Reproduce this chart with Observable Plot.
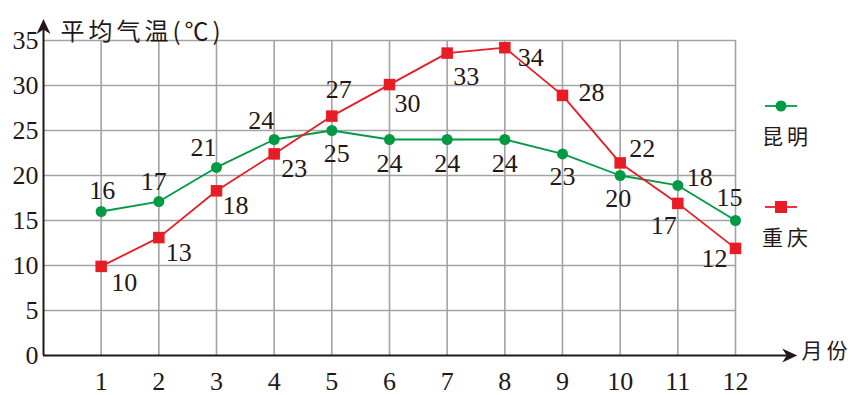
<!DOCTYPE html>
<html>
<head>
<meta charset="utf-8">
<script src="https://cdn.jsdelivr.net/npm/d3@7"></script>
<script src="https://cdn.jsdelivr.net/npm/@observablehq/plot@0.6"></script>
<style>
  html, body { margin: 0; padding: 0; background: #fff; }
  #wrap { position: relative; width: 853px; height: 395px; }
  #wrap svg text { font-family: "Liberation Serif", serif !important; font-variant: normal !important; }
  #wrap svg .cjk text { font-family: "Noto Sans CJK SC", sans-serif !important; letter-spacing: 4px; }
  .leg { position: absolute; font-family: "Noto Sans CJK SC", sans-serif; font-size: 21px; letter-spacing: 4px; color: #231815; }
</style>
</head>
<body>
<div id="wrap"></div>
<script>
// ---- data ----
const months = [1, 2, 3, 4, 5, 6, 7, 8, 9, 10, 11, 12];
const kunmingPlotted = [16, 17.1, 20.9, 24, 25, 24, 24, 24, 22.4, 20, 18.9, 15];
const kunmingLabels = ["16", "17", "21", "24", "25", "24", "24", "24", "23", "20", "18", "15"];
const chongqingPlotted = [9.9, 13.1, 18.3, 22.4, 26.6, 30.1, 33.6, 34.2, 28.9, 21.4, 16.9, 11.9];
const chongqingLabels = ["10", "13", "18", "23", "27", "30", "33", "34", "28", "22", "17", "12"];
const yTicks = [0, 5, 10, 15, 20, 25, 30, 35];
const seriesNames = ["昆明", "重庆"];
const yTitle = "平均气温(℃)";
const xTitle = "月份";

// ---- styles / label offsets (pixels) ----
const green = "#009a44";
const red = "#e81c24";
const ink = "#231815";
const kmOffsets = [[1,-21],[-5,-20],[-13,-20],[-13,-19],[5,23],[0,24],[0,24],[0,24],[0,23],[-2,23],[22,-8],[-6,-23]];
const cqOffsets = [[23,16],[20,15],[19,15],[20,15],[7,-26],[18,19],[19,24],[26,10],[29,-3],[22,-14],[-14,22],[-21,10]];
const xAxisEnd = 13.07;   // arrow tip beyond last month
const yAxisEnd = 37.4;    // arrow tip above top tick

const km = months.map((m, i) => ({month: m, t: kunmingPlotted[i], label: kunmingLabels[i]}));
const cq = months.map((m, i) => ({month: m, t: chongqingPlotted[i], label: chongqingLabels[i]}));

// stealth arrow head symbol (tip at the anchor point, pointing +x)
const arrowSym = {
  draw(ctx) {
    ctx.moveTo(0, 0);
    ctx.lineTo(-15, -7);
    ctx.lineTo(-10.5, 0);
    ctx.lineTo(-15, 7);
    ctx.closePath();
  }
};

const labelMarks = (data, offs) => data.map((d, i) => Plot.text([d], {
  x: "month", y: "t", text: "label",
  dx: offs[i][0], dy: offs[i][1],
  fontSize: 26, fill: ink
}));

const chart = Plot.plot({
  width: 853,
  height: 395,
  marginLeft: 43,
  marginRight: 118,
  marginTop: 40,
  marginBottom: 40,
  style: {background: "#fff", overflow: "visible"},
  x: {domain: [0, 12], axis: null},
  y: {domain: [0, 35], axis: null},
  marks: [
    Plot.gridX(months, {stroke: "#a3a3a3", strokeOpacity: 1, strokeWidth: 1.6}),
    Plot.gridY(yTicks.filter(d => d > 0), {stroke: "#a3a3a3", strokeOpacity: 1, strokeWidth: 1.6}),
    // axes lines with arrows
    Plot.ruleY([0], {x1: 0, x2: xAxisEnd - 0.1, stroke: ink, strokeWidth: 2}),
    Plot.ruleX([0], {y1: 0, y2: yAxisEnd - 0.6, stroke: ink, strokeWidth: 2}),
    Plot.dot([0], {x: xAxisEnd, y: 0, symbol: arrowSym, r: 7, fill: ink, stroke: null}),
    Plot.dot([0], {x: 0, y: yAxisEnd, symbol: arrowSym, r: 7, fill: ink, stroke: null, rotate: -90}),
    // tick labels
    Plot.axisY(yTicks, {tickSize: 0, tickPadding: 5, fontSize: 26, fill: ink, label: null}),
    Plot.axisX(months, {tickSize: 0, tickPadding: 16, fontSize: 26, fill: ink, label: null}),
    // series
    Plot.line(km, {x: "month", y: "t", stroke: green, strokeWidth: 1.8}),
    Plot.line(cq, {x: "month", y: "t", stroke: red, strokeWidth: 1.8}),
    Plot.dot(km, {x: "month", y: "t", r: 5.5, fill: green, stroke: null}),
    Plot.dot(cq, {x: "month", y: "t", symbol: "square", r: 6.5, fill: red, stroke: null}),
    ...labelMarks(km, kmOffsets),
    ...labelMarks(cq, cqOffsets),
    // titles
    Plot.text([yTitle], {frameAnchor: "top-left", text: d => d, dx: 17, dy: -18, textAnchor: "start",
      fontSize: 24, fill: ink, className: "cjk"}),
    Plot.text([xTitle], {frameAnchor: "bottom-right", text: d => d, dx: 66, dy: 2, textAnchor: "start",
      fontSize: 21, fill: ink, className: "cjk"})
  ]
});

const wrap = document.getElementById("wrap");
wrap.appendChild(chart);

// legend (HTML overlay)
const legendItems = [
  {name: seriesNames[0], color: green, shape: "circle", lineY: 106, textY: 135},
  {name: seriesNames[1], color: red, shape: "square", lineY: 207, textY: 236}
];
legendItems.forEach(it => {
  const svg = d3.create("svg").attr("width", 34).attr("height", 14)
    .style("position", "absolute").style("left", "764px").style("top", (it.lineY - 7) + "px");
  svg.append("line").attr("x1", 1).attr("x2", 33).attr("y1", 7).attr("y2", 7).attr("stroke", it.color).attr("stroke-width", 1.8);
  if (it.shape === "circle") svg.append("circle").attr("cx", 17).attr("cy", 7).attr("r", 5.5).attr("fill", it.color);
  else svg.append("rect").attr("x", 11).attr("y", 1).attr("width", 12).attr("height", 12).attr("fill", it.color);
  wrap.appendChild(svg.node());
  const t = document.createElement("div");
  t.className = "leg";
  t.textContent = it.name;
  t.style.left = "762px";
  t.style.top = (it.textY - 15) + "px";
  t.style.lineHeight = "30px";
  wrap.appendChild(t);
});
</script>
</body>
</html>
